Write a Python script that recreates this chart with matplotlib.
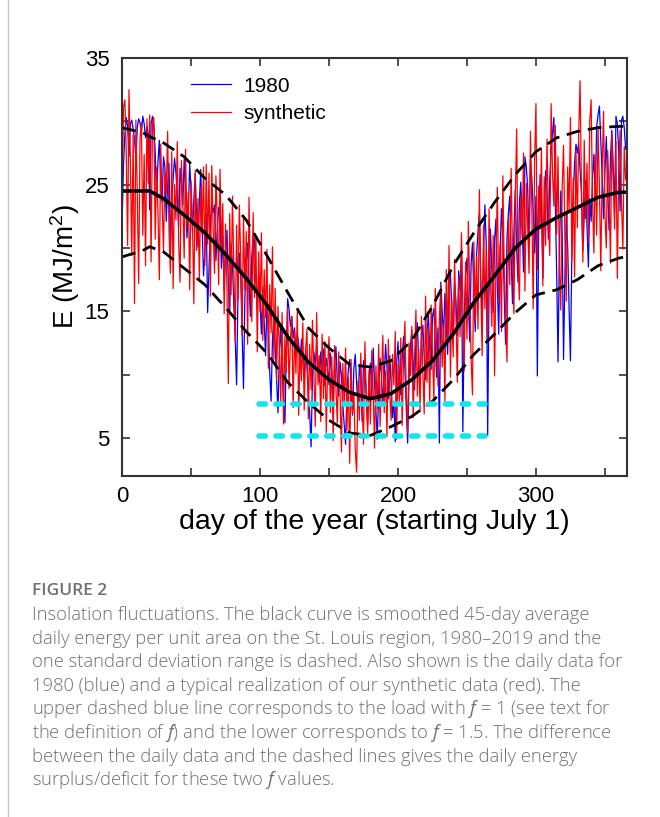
import numpy as np
import matplotlib
matplotlib.use("Agg")
import matplotlib.pyplot as plt

plt.rcParams['font.family'] = ['Liberation Sans', 'DejaVu Sans']
plt.rcParams['mathtext.fontset'] = 'custom'
plt.rcParams['mathtext.rm'] = 'Liberation Sans'
plt.rcParams['mathtext.it'] = 'Open Sans:italic'

# daily insolation for 1980 (blue), day 0 = July 1
blue_1980 = [
    22.0, 26.5, 29.0, 30.3, 29.6, 27.2, 29.8, 30.1, 29.4, 28.6,
    27.0, 29.5, 30.2, 29.9, 29.1, 30.4, 29.8, 28.7, 29.6, 29.0,
    23.0, 29.8, 30.4, 29.7, 27.5, 24.0, 26.8, 28.5, 25.1, 23.6,
    27.2, 26.4, 22.1, 24.9, 26.7, 19.5, 23.8, 25.5, 27.1, 26.0,
    24.2, 21.6, 26.3, 25.1, 23.4, 27.0, 24.7, 20.8, 22.9, 26.6,
    24.5, 21.2, 23.8, 25.9, 22.4, 20.1, 23.6, 26.2, 21.8, 17.8,
    19.6, 22.7, 14.9, 18.5, 21.9, 23.6, 22.8, 23.4, 19.0, 21.6,
    23.2, 22.5, 18.4, 20.9, 16.7, 19.8, 21.4, 17.2, 14.8, 20.3,
    18.8, 15.4, 12.9, 9.2, 16.4, 19.6, 17.8, 13.5, 8.9, 16.1,
    18.9, 20.4, 17.2, 14.6, 19.3, 21.0, 20.6, 17.4, 15.2, 18.1,
    15.8, 13.2, 16.9, 14.1, 11.5, 15.6, 13.9, 10.2, 7.9, 12.8,
    14.6, 12.2, 9.6, 7.0, 11.8, 13.9, 10.4, 8.1, 6.2, 11.5,
    16.0, 15.2, 13.8, 14.6, 12.9, 13.7, 11.6, 13.2, 12.4, 10.9,
    12.8, 11.3, 9.8, 12.1, 10.6, 8.4, 6.9, 4.3, 9.9, 11.8,
    10.7, 12.3, 11.1, 9.4, 11.8, 10.2, 12.0, 9.1, 11.3, 10.6,
    9.2, 11.7, 10.1, 7.8, 10.9, 12.2, 9.6, 8.3, 11.0, 9.9,
    7.6, 6.1, 4.5, 8.8, 10.4, 11.2, 9.0, 6.8, 10.5, 11.6,
    9.3, 7.4, 10.8, 9.7, 6.3, 11.1, 10.2, 8.6, 6.0, 9.8,
    10.9, 8.2, 12.1, 9.4, 7.1, 4.9, 8.7, 11.3, 10.0, 7.6,
    9.8, 12.4, 10.6, 8.1, 11.5, 9.3, 6.6, 7.9, 4.7, 10.8,
    12.6, 9.9, 8.4, 11.2, 13.0, 10.5, 7.3, 4.6, 9.7, 12.3,
    13.5, 11.0, 8.8, 12.7, 14.1, 10.9, 9.2, 12.8, 13.9, 11.4,
    9.6, 13.3, 14.8, 12.0, 10.4, 14.6, 15.2, 12.5, 9.8, 13.7,
    4.6, 17.3, 15.1, 12.9, 16.4, 14.0, 11.6, 16.9, 18.0, 15.3,
    12.4, 17.2, 15.8, 13.1, 18.2, 16.6, 19.9, 5.5, 14.3, 17.9,
    19.2, 15.7, 12.6, 18.8, 20.4, 16.1, 13.4, 19.5, 21.3, 22.8,
    17.6, 14.2, 19.8, 23.4, 20.1, 5.2, 16.7, 21.5, 18.4, 14.9,
    20.6, 22.3, 17.1, 13.2, 19.7, 23.1, 21.0, 16.3, 12.4, 20.8,
    22.7, 24.1, 19.4, 15.6, 21.2, 24.6, 20.0, 17.3, 23.5, 25.2,
    22.0, 18.1, 27.2, 26.4, 24.8, 20.3, 27.0, 25.5, 22.9, 19.6,
    24.1, 9.9, 21.3, 25.8, 23.0, 17.6, 22.4, 26.1, 24.3, 20.7,
    25.4, 27.8, 29.1, 30.3, 23.6, 18.2, 11.0, 19.8, 24.5, 21.2,
    11.2, 17.9, 22.6, 20.1, 15.3, 11.1, 19.4, 24.0, 26.7, 28.2,
    27.5, 28.3, 26.1, 24.4, 19.8, 22.6, 25.3, 21.7, 18.5, 23.9,
    22.1, 25.6, 27.4, 24.0, 29.6, 30.5, 31.2, 28.4, 25.7, 22.3,
    26.0, 28.8, 24.6, 21.4, 27.1, 29.3, 26.5, 23.0, 30.4, 29.8,
    27.6, 22.9, 30.1, 30.4, 29.5, 27.8,
]

# one synthetic realization (red)
red_synth = [
    24.0, 31.1, 31.7, 27.5, 20.2, 32.5, 26.8, 19.4, 28.9, 15.6,
    30.1, 24.3, 17.2, 28.7, 29.9, 21.0, 27.4, 18.6, 30.2, 25.1,
    30.5, 18.9, 29.8, 30.3, 20.7, 26.4, 22.9, 17.5, 28.2, 23.6,
    19.8, 26.1, 24.3, 29.2, 21.4, 18.0, 27.6, 16.8, 25.0, 22.2,
    28.4, 20.5, 17.3, 26.9, 23.7, 19.2, 27.8, 21.6, 24.4, 16.7,
    25.3, 22.0, 15.6, 26.1, 19.8, 23.9, 17.4, 24.8, 21.1, 26.4,
    18.6, 26.6, 20.3, 25.9, 16.2, 26.5, 21.4, 18.0, 25.7, 22.3,
    17.1, 26.2, 19.6, 23.5, 14.8, 21.9, 17.0, 9.3, 22.7, 16.3,
    24.1, 18.5, 12.6, 21.8, 15.9, 23.4, 19.2, 13.1, 22.5, 16.7,
    21.3, 12.4, 24.0, 17.6, 14.2, 22.8, 16.1, 20.9, 11.8, 19.7,
    15.0, 21.2, 12.7, 18.3, 14.5, 19.9, 10.5, 17.1, 13.3, 20.1,
    11.2, 16.8, 9.6, 15.4, 12.1, 7.8, 14.9, 6.1, 13.0, 10.2,
    15.3, 8.9, 12.7, 14.6, 7.4, 13.5, 10.1, 15.0, 6.8, 12.2,
    9.5, 14.1, 7.2, 11.9, 13.6, 6.5, 12.4, 8.8, 14.3, 10.0,
    5.9, 14.9, 9.2, 11.5, 6.3, 13.2, 8.1, 12.6, 5.4, 10.7,
    13.0, 7.0, 11.4, 4.8, 12.3, 9.0, 6.2, 11.8, 8.4, 3.9,
    10.9, 7.5, 12.1, 5.6, 9.8, 3.0, 11.2, 6.9, 8.6, 4.1,
    2.3, 9.5, 6.4, 11.7, 7.8, 4.5, 12.6, 8.2, 5.3, 10.4,
    6.1, 11.9, 8.8, 4.2, 10.7, 7.3, 12.4, 5.9, 9.6, 13.1,
    7.0, 10.3, 5.1, 12.8, 8.5, 6.4, 11.6, 9.2, 13.4, 4.9,
    10.8, 7.7, 12.9, 6.0, 11.1, 14.2, 8.6, 5.4, 12.5, 9.9,
    13.8, 6.6, 11.3, 15.1, 8.3, 12.0, 7.1, 14.6, 10.2, 6.9,
    16.2, 9.4, 13.7, 7.5, 15.5, 11.6, 8.0, 16.8, 12.3, 9.1,
    14.4, 17.0, 10.6, 13.9, 7.9, 18.3, 12.5, 20.2, 9.8, 16.0,
    11.4, 19.1, 14.7, 9.4, 17.6, 13.0, 21.2, 15.8, 10.3, 18.9,
    12.8, 22.1, 16.4, 11.2, 8.4, 20.5, 14.1, 19.3, 13.6, 24.6,
    16.9, 11.5, 21.8, 15.2, 19.9, 12.7, 23.1, 17.4, 13.8, 21.0,
    9.9, 18.6, 24.8, 16.0, 20.3, 13.4, 25.7, 18.2, 14.5, 11.0,
    22.4, 17.1, 26.3, 19.5, 14.8, 23.6, 29.4, 18.7, 15.9, 24.2,
    20.8, 27.5, 16.6, 25.1, 21.7, 18.0, 29.2, 23.4, 15.2, 26.8,
    31.4, 18.3, 24.9, 21.5, 27.9, 17.0, 25.6, 20.2, 28.6, 22.8,
    19.4, 31.4, 26.0, 23.3, 29.7, 21.1, 27.2, 18.5, 15.1, 24.7,
    28.1, 20.6, 15.8, 26.4, 22.9, 30.3, 19.0, 25.5, 17.7, 27.8,
    21.6, 29.1, 33.2, 24.2, 18.9, 28.5, 22.3, 26.7, 20.4, 30.0,
    31.7, 23.8, 19.6, 27.3, 21.0, 29.6, 24.9, 18.2, 26.1, 30.8,
    22.6, 20.0, 27.7, 24.5, 18.8, 29.0, 25.2, 21.5, 28.4, 17.6,
    26.2, 29.3, 23.7, 19.9, 28.0, 25.4,
]

# 45-day smoothed average and +/- one standard deviation (read every ~15 days)
avg_days = [0, 15, 20, 30, 45, 60, 75, 90, 105, 120, 135, 150, 165, 180,
            195, 210, 225, 240, 255, 270, 285, 300, 315, 330, 345, 360, 365]
avg_mean = [24.5, 24.5, 24.5, 23.9, 22.6, 21.2, 19.5, 17.6, 15.5, 13.0, 11.0,
            9.6, 8.6, 8.1, 8.5, 9.6, 11.1, 13.2, 15.7, 17.8, 20.0, 21.5,
            22.4, 23.2, 24.0, 24.4, 24.4]
avg_upper = [29.5, 29.1, 28.8, 28.3, 27.2, 25.5, 24.2, 22.2, 19.4, 16.5, 13.7,
             12.1, 10.8, 10.6, 11.1, 12.7, 15.4, 18.6, 21.2, 23.6, 25.8,
             27.6, 28.7, 29.2, 29.5, 29.6, 29.6]
avg_lower = [19.3, 19.8, 20.1, 19.7, 18.4, 17.1, 15.3, 13.4, 11.7, 9.4, 7.8,
             6.4, 5.4, 5.2, 5.9, 6.7, 7.9, 9.6, 11.6, 13.2, 14.9, 16.3,
             16.7, 17.5, 18.6, 19.2, 19.3]

# load levels for f = 1 and f = 1.5
load_days = [99, 263]
load_f1 = 7.7
load_f15 = 5.15

days = np.arange(len(blue_1980))

fig = plt.figure(figsize=(6.6, 8.17), dpi=100)
ax = fig.add_axes([0.185, 0.4174, 0.765, 0.5116])

ax.plot(days, blue_1980, color='#0000ff', lw=0.9, label='1980')
ax.plot(days, red_synth, color='#ff0000', lw=0.9, label='synthetic')

ax.plot(avg_days, avg_mean, color='black', lw=2.6, solid_capstyle='round')
ax.plot(avg_days, avg_upper, color='black', lw=2.0, dashes=(5, 2.8))
ax.plot(avg_days, avg_lower, color='black', lw=2.0, dashes=(5, 2.8))

for lvl in (load_f1, load_f15):
    ax.plot(load_days, [lvl, lvl], color='#11e6ee', lw=4,
            dashes=(1.15, 1.9), dash_capstyle='round')

ax.set_xlim(0, 366)
ax.set_ylim(2, 35)
ax.set_xticks(np.arange(0, 351, 50))
ax.set_xticklabels(['0', '', '100', '', '200', '', '300', ''])
ax.set_yticks(np.arange(5, 36, 5))
ax.set_yticklabels(['5', '', '15', '', '25', '', '35'])
ax.tick_params(direction='in', top=True, right=True, length=6, width=1.2,
               color='#333333', labelsize=16, pad=7)
ax.tick_params(axis='y', pad=9)
for sp in ax.spines.values():
    sp.set_color('#333333')
    sp.set_linewidth(1.5)

ax.set_xlabel('day of the year (starting July 1)', fontsize=20.5, labelpad=2)
ax.set_ylabel('E (MJ/m$^2$)', fontsize=20, labelpad=2)

ax.legend(loc='upper left', bbox_to_anchor=(0.116, 0.98), frameon=False,
          fontsize=15, handlelength=1.9, handletextpad=0.6,
          labelspacing=0.4, borderpad=0)

# caption under the chart
cap_font = ['Open Sans', 'DejaVu Sans']
fig.text(32 / 660, 1 - 591 / 817, 'FIGURE 2', fontsize=12.5, color='#707070',
         family=cap_font, fontweight='semibold', va='center')
caption = [
    'Insolation fluctuations. The black curve is smoothed 45-day average',
    'daily energy per unit area on the St. Louis region, 1980\u20132019 and the',
    'one standard deviation range is dashed. Also shown is the daily data for',
    '1980 (blue) and a typical realization of our synthetic data (red). The',
    'upper dashed blue line corresponds to the load with $f$ = 1 (see text for',
    'the definition of $f$) and the lower corresponds to $f$ = 1.5. The difference',
    'between the daily data and the dashed lines gives the daily energy',
    'surplus/deficit for these two $f$ values.',
]
for i, line in enumerate(caption):
    fig.text(32 / 660, 1 - (615 + 23.6 * i) / 817, line, fontsize=13.2,
             color='#707070', family=cap_font, fontweight='light', va='center')

# thin frame line on the left of the figure block
fig.add_artist(plt.Line2D([8 / 660, 8 / 660], [0, 1], color='#c8c8c8', lw=1,
                          transform=fig.transFigure))

fig.savefig('out.png', dpi=100)
